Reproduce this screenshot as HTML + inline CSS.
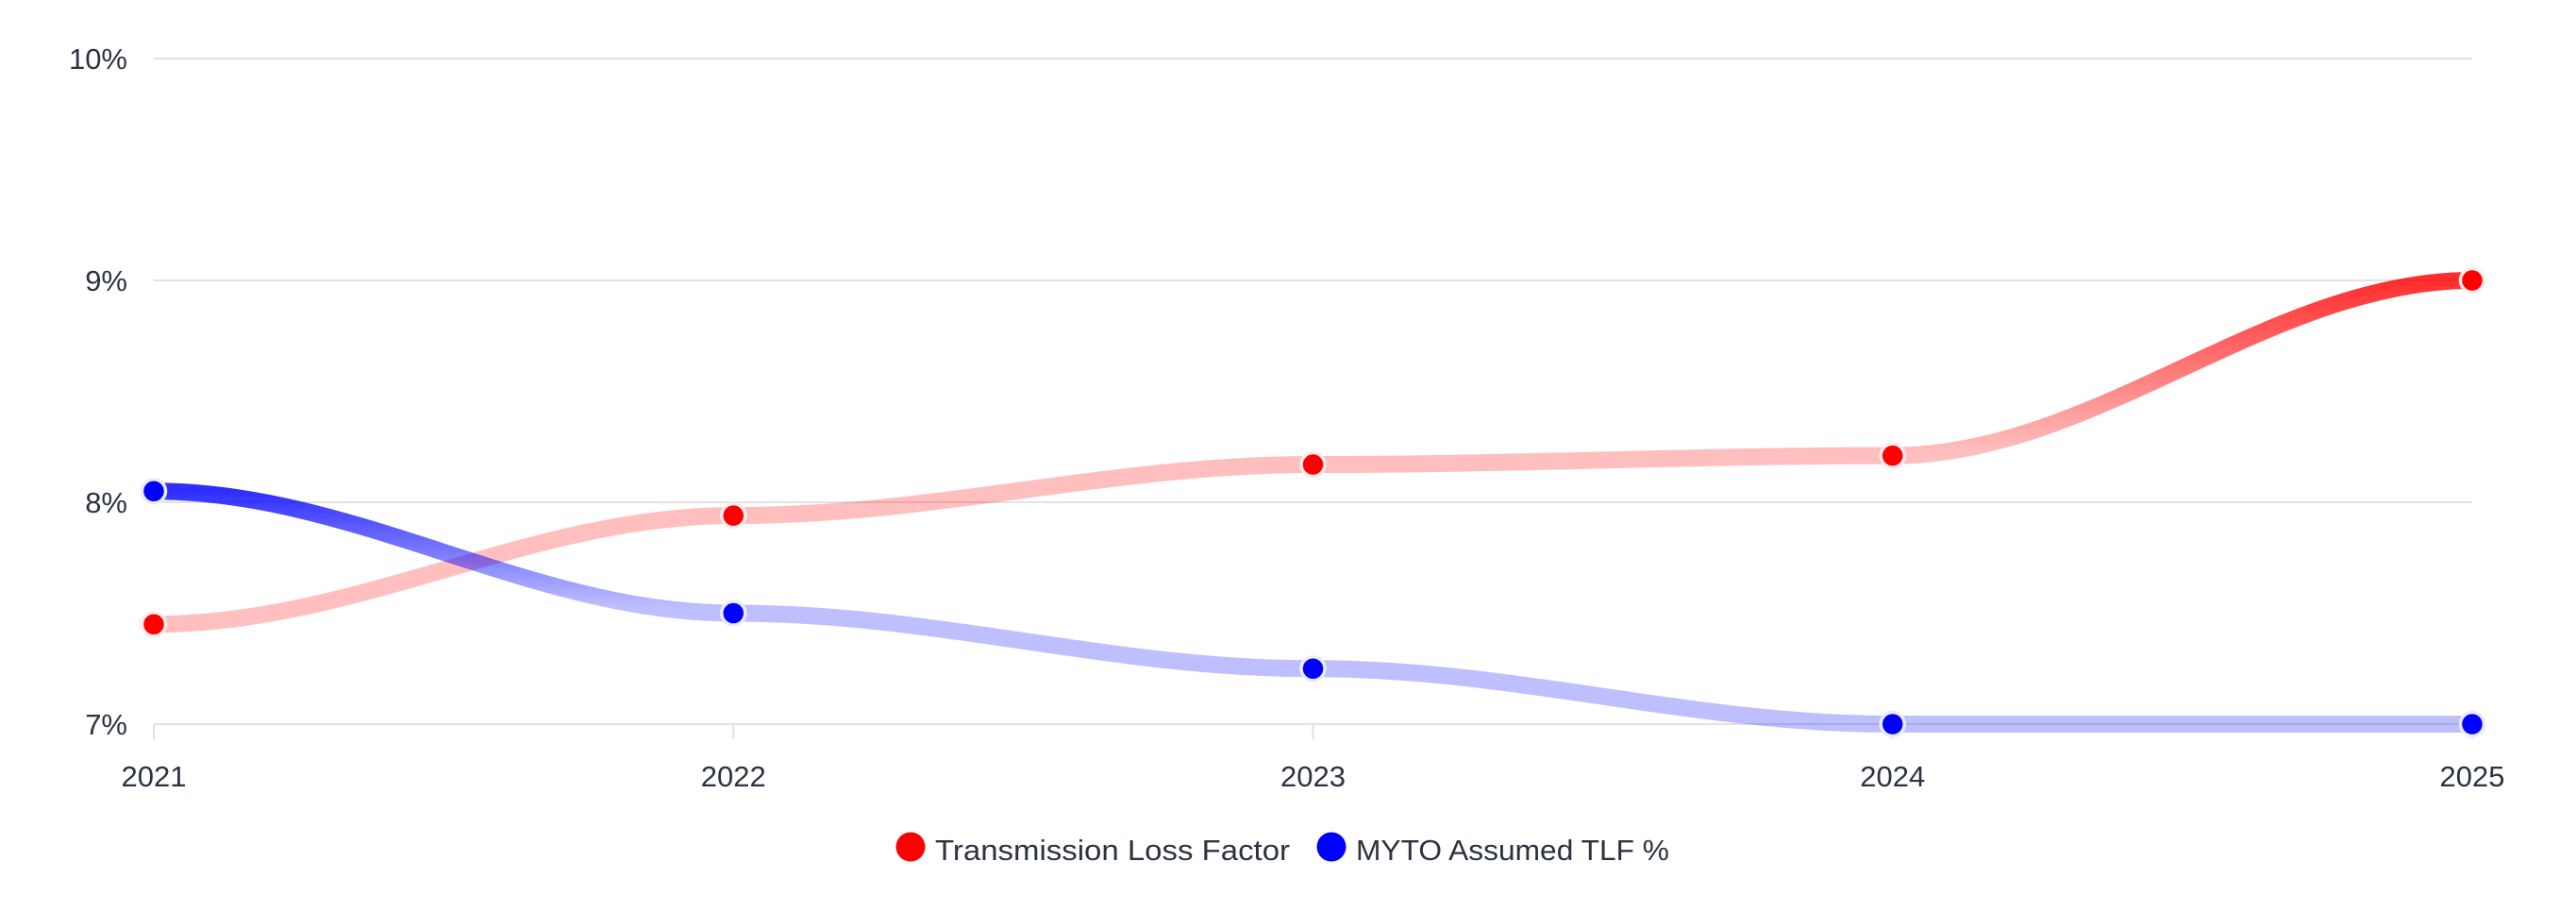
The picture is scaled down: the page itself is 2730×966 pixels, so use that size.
<!DOCTYPE html>
<html>
<head>
<meta charset="utf-8">
<style>
  html,body{margin:0;padding:0;background:#fff;}
  svg{display:block;}
  text{font-family:"Liberation Sans",Arial,sans-serif;fill:#2b3340;}
</style>
</head>
<body>
<svg width="2730" height="966" viewBox="0 0 2730 966" xmlns="http://www.w3.org/2000/svg">
  <defs>
    <linearGradient id="gRed" gradientUnits="userSpaceOnUse" x1="0" y1="297" x2="0" y2="661.25">
      <stop offset="0" stop-color="#ff0000" stop-opacity="0.82"/>
      <stop offset="0.5" stop-color="#ff0000" stop-opacity="0.25"/>
      <stop offset="1" stop-color="#ff0000" stop-opacity="0.25"/>
    </linearGradient>
    <linearGradient id="gBlue" gradientUnits="userSpaceOnUse" x1="0" y1="520.25" x2="0" y2="767">
      <stop offset="0" stop-color="#0000ff" stop-opacity="0.82"/>
      <stop offset="0.5" stop-color="#0000ff" stop-opacity="0.25"/>
      <stop offset="1" stop-color="#0000ff" stop-opacity="0.25"/>
    </linearGradient>
  </defs>

  <!-- grid lines -->
  <g stroke="#e2e2e2" stroke-width="2">
    <line x1="163" y1="62" x2="2620" y2="62"/>
    <line x1="163" y1="297" x2="2620" y2="297"/>
    <line x1="163" y1="532" x2="2620" y2="532"/>
    <line x1="163" y1="767" x2="2620" y2="767"/>
    <!-- ticks -->
    <line x1="163" y1="767" x2="163" y2="783"/>
    <line x1="777.25" y1="767" x2="777.25" y2="783"/>
    <line x1="1391.5" y1="767" x2="1391.5" y2="783"/>
    <line x1="2005.75" y1="767" x2="2005.75" y2="783"/>
    <line x1="2620" y1="767" x2="2620" y2="783"/>
  </g>

  <!-- y labels -->
  <g font-size="31" text-anchor="end">
    <text x="135" y="73">10%</text>
    <text x="135" y="308">9%</text>
    <text x="135" y="543">8%</text>
    <text x="135" y="778">7%</text>
  </g>

  <!-- x labels -->
  <g font-size="31" text-anchor="middle">
    <text x="163" y="833">2021</text>
    <text x="777.25" y="833">2022</text>
    <text x="1391.5" y="833">2023</text>
    <text x="2005.75" y="833">2024</text>
    <text x="2620" y="833">2025</text>
  </g>

  <!-- series lines -->
  <path fill="none" stroke="url(#gRed)" stroke-width="18"
        d="M163,661.25 C378,661.25 562.25,546.1 777.25,546.1 C992.25,546.1 1176.5,492.05 1391.5,492.05 C1606.5,492.05 1790.75,482.65 2005.75,482.65 C2220.75,482.65 2405,297 2620,297"/>
  <path fill="none" stroke="url(#gBlue)" stroke-width="18"
        d="M163,520.25 C378,520.25 562.25,649.5 777.25,649.5 C992.25,649.5 1176.5,708.25 1391.5,708.25 C1606.5,708.25 1790.75,767 2005.75,767 C2220.75,767 2405,767 2620,767"/>

  <!-- markers -->
  <g fill="#ff0000" stroke="#ffecec" stroke-width="3.5">
    <circle cx="163" cy="661.25" r="12.5"/>
    <circle cx="777.25" cy="546.1" r="12.5"/>
    <circle cx="1391.5" cy="492.05" r="12.5"/>
    <circle cx="2005.75" cy="482.65" r="12.5"/>
    <circle cx="2620" cy="297" r="12.5"/>
  </g>
  <g fill="#0000ff" stroke="#ececff" stroke-width="3.5">
    <circle cx="163" cy="520.25" r="12.5"/>
    <circle cx="777.25" cy="649.5" r="12.5"/>
    <circle cx="1391.5" cy="708.25" r="12.5"/>
    <circle cx="2005.75" cy="767" r="12.5"/>
    <circle cx="2620" cy="767" r="12.5"/>
  </g>

  <!-- legend -->
  <circle cx="965" cy="897" r="15.5" fill="#ff0000"/>
  <text x="991" y="911" font-size="31" textLength="376" lengthAdjust="spacingAndGlyphs">Transmission Loss Factor</text>
  <circle cx="1411" cy="897" r="15.5" fill="#0000ff"/>
  <text x="1437" y="911" font-size="31" textLength="332" lengthAdjust="spacingAndGlyphs">MYTO Assumed TLF %</text>
</svg>
</body>
</html>
